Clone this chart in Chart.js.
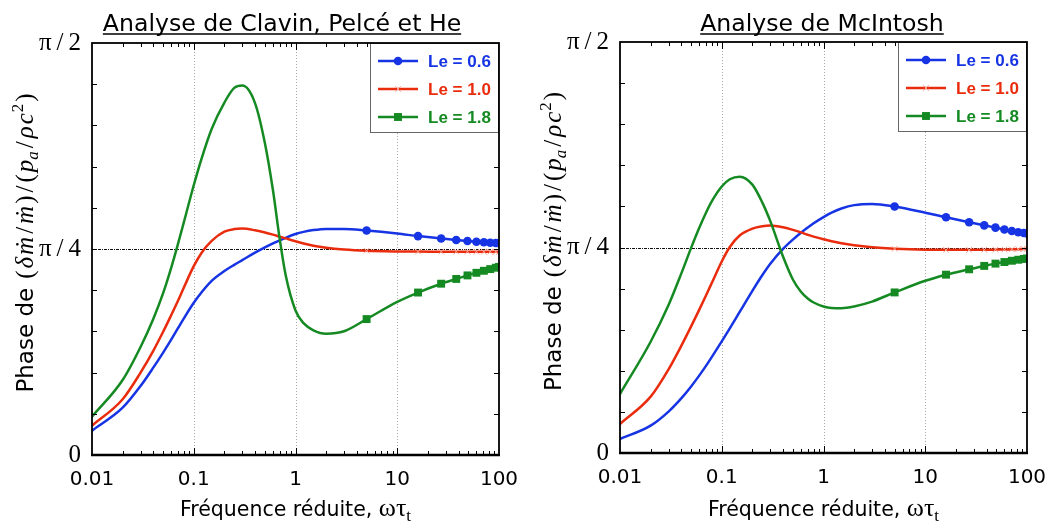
<!DOCTYPE html>
<html>
<head>
<meta charset="utf-8">
<script src="https://cdn.jsdelivr.net/npm/chart.js@4.4.1/dist/chart.umd.min.js"></script>
<style>
  html, body { margin: 0; padding: 0; background: #fff; }
  #wrap { display: flex; width: 1056px; height: 524px; }
  canvas { display: block; }
</style>
</head>
<body>
<div id="wrap">
  <canvas id="left" width="528" height="524"></canvas>
  <canvas id="right" width="528" height="524"></canvas>
</div>
<script>
// fréquence réduite, commune aux deux figures
const freq = [0.01, 0.02, 0.03, 0.04, 0.05, 0.06, 0.07, 0.08, 0.1, 0.12, 0.15, 0.2, 0.25, 0.3, 0.4, 0.5, 0.6, 0.7, 0.8,
              1, 1.2, 1.5, 2, 3, 5, 10, 16, 27, 38, 49, 60, 71, 82, 93, 100];
// points qui portent un symbole
const markerFreq = [5, 16, 27, 38, 49, 60, 71, 82, 93, 100];

const xTicks = [0.01, 0.1, 1, 10, 100];
const xTickLabels = ['0.01', '0.1', '1', '10', '100'];
// phase en degrés : 90 = pi/2
const yTicks = [0, 45, 90];
const yTickLabels = ['0', 'π\u2009/\u20094', 'π\u2009/\u20092'];
const leLabels = ['Le = 0.6', 'Le = 1.0', 'Le = 1.8'];

// Analyse de Clavin, Pelcé et He
const clavinLe06 = [5.31, 10.33, 15.08, 19.08, 22.38, 25.22, 27.7, 29.85, 33.25, 35.62, 38.05, 40.18, 41.54, 42.57, 44.2, 45.36, 46.23, 46.9, 47.45,
                    48.27, 48.74, 49.13, 49.38, 49.38, 49.03, 48.37, 47.82, 47.3, 46.97, 46.75, 46.59, 46.47, 46.38, 46.3, 46.26];
const clavinLe10 = [6.4, 12.18, 17.99, 22.74, 26.91, 30.54, 33.69, 36.59, 41.25, 44.25, 46.77, 48.77, 49.35, 49.47, 49.09, 48.6, 48.13, 47.69, 47.31,
                    46.68, 46.21, 45.72, 45.28, 44.89, 44.62, 44.47, 44.43, 44.42, 44.41, 44.41, 44.4, 44.4, 44.4, 44.4, 44.4];
const clavinLe18 = [8.37, 16.38, 23.6, 29.73, 35.36, 40.89, 46.12, 50.88, 58.93, 64.93, 71.23, 76.98, 80.2, 80.7, 76.88, 68.15, 57.88, 47.16, 39.33,
                    31.57, 28.8, 27.25, 26.5, 27.03, 29.69, 33.45, 35.49, 37.42, 38.46, 39.23, 39.8, 40.24, 40.61, 40.91, 41.09];

// Analyse de McIntosh
const mcintoshLe06 = [3.07, 5.99, 9.07, 11.95, 14.57, 16.94, 19.08, 21.05, 24.45, 27.29, 30.88, 35.51, 38.91, 41.44, 44.69, 46.73, 48.23, 49.37, 50.3,
                      51.66, 52.61, 53.53, 54.28, 54.54, 53.98, 52.63, 51.61, 50.52, 49.85, 49.35, 48.93, 48.6, 48.35, 48.16, 48.06];
const mcintoshLe10 = [6.35, 12.34, 18.32, 23.45, 27.72, 31.35, 34.5, 37.28, 41.94, 45.1, 47.62, 49.12, 49.65, 49.81, 49.43, 48.85, 48.3, 47.8, 47.39,
                      46.79, 46.36, 45.92, 45.48, 45.04, 44.71, 44.5, 44.48, 44.48, 44.5, 44.53, 44.56, 44.6, 44.63, 44.67, 44.7];
const mcintoshLe18 = [12.92, 24.36, 32.4, 39.28, 44.91, 49.26, 52.61, 55.16, 58.36, 59.94, 60.52, 58.77, 54.89, 50.78, 43.03, 37.99, 35.3, 33.83, 32.96,
                      32.09, 31.77, 31.72, 32.1, 33.16, 35.16, 37.72, 39.05, 40.23, 40.97, 41.47, 41.82, 42.1, 42.32, 42.5, 42.6];

const BLUE = '#1634e4';
const RED = '#ea2c0e';
const GREEN = '#158a22';
const styles = [
  { color: BLUE, pointStyle: 'circle', radius: 4.3, pointColor: BLUE, pointBorder: 0 },
  { color: RED, pointStyle: 'crossRot', radius: 4, pointColor: '#f6a493', pointBorder: 1 },
  { color: GREEN, pointStyle: 'rect', radius: 5.6, pointColor: GREEN, pointBorder: 0 }
];

const SANS = '"DejaVu Sans", "Liberation Sans", sans-serif';
const SERIF = '"Liberation Serif", "DejaVu Serif", serif';

// texte en morceaux (police, décalage vertical)
function drawPieces(ctx, pieces, x, y) {
  let cx = x;
  pieces.forEach(p => {
    ctx.font = p.font;
    ctx.fillText(p.t, cx, y + (p.dy || 0));
    cx += ctx.measureText(p.t).width + (p.gap || 0);
  });
  return cx - x;
}
function piecesWidth(ctx, pieces) {
  let w = 0;
  pieces.forEach(p => { ctx.font = p.font; w += ctx.measureText(p.t).width + (p.gap || 0); });
  return w;
}

const mathFont = 'italic 25px ' + SERIF;
const mathUp = '25px ' + SERIF;
const mathSmall = 'italic 17px ' + SERIF;
const yLabelPieces = [
  { t: 'Phase de', font: '23px ' + SANS, gap: 9 },
  { t: '(', font: mathUp, gap: 2 },
  { t: 'δ', font: mathFont, gap: 2 },
  { t: 'ṁ', font: mathFont, gap: 3 },
  { t: '/', font: mathUp, gap: 3 },
  { t: 'ṁ', font: mathFont, gap: 2 },
  { t: ')', font: mathUp, gap: 3 },
  { t: '/', font: mathUp, gap: 3 },
  { t: '(', font: mathUp, gap: 2 },
  { t: 'p', font: mathFont, gap: 0 },
  { t: 'a', font: mathSmall, dy: 5, gap: 3 },
  { t: '/', font: mathUp, gap: 3 },
  { t: 'ρ', font: mathFont, gap: 2 },
  { t: 'c', font: mathFont, gap: 1 },
  { t: '2', font: '17px ' + SERIF, dy: -10, gap: 2 },
  { t: ')', font: mathUp, gap: 0 }
];
const xLabelPieces = [
  { t: 'Fréquence réduite, ', font: '20.5px ' + SANS, gap: 0 },
  { t: 'ωτ', font: '26px ' + SERIF, gap: 0 },
  { t: 't', font: '17px ' + SERIF, dy: 5, gap: 0 }
];

function decorPlugin(title, titleX) {
  return {
    id: 'decor',
    beforeDatasetsDraw(chart) {
      const { ctx, chartArea: a, scales: { x, y } } = chart;
      ctx.save();
      // grille verticale pointillée
      ctx.strokeStyle = '#a8a8a8';
      ctx.lineWidth = 1;
      ctx.setLineDash([1, 2]);
      [0.1, 1, 10].forEach(v => {
        const px = Math.round(x.getPixelForValue(v)) + 0.5;
        ctx.beginPath(); ctx.moveTo(px, a.top); ctx.lineTo(px, a.bottom); ctx.stroke();
      });
      // ligne pi/4
      ctx.strokeStyle = '#111';
      ctx.setLineDash([3, 1, 1, 1]);
      const py = Math.round(y.getPixelForValue(45)) + 0.5;
      ctx.beginPath(); ctx.moveTo(a.left, py); ctx.lineTo(a.right, py); ctx.stroke();
      ctx.restore();
    },
    afterDatasetsDraw(chart) {
      const { ctx, chartArea: a, scales: { x, y } } = chart;
      ctx.save();
      // légende
      const lw = 129, lh = 90;
      const lx = a.right - lw, ly = a.top;
      ctx.fillStyle = '#fff';
      ctx.fillRect(lx, ly, lw, lh);
      ctx.strokeStyle = '#666';
      ctx.lineWidth = 1;
      ctx.strokeRect(lx + 0.5, ly + 0.5, lw - 1, lh - 1);
      styles.forEach((s, i) => {
        const ry = ly + 18 + i * 28;
        ctx.strokeStyle = s.color;
        ctx.lineWidth = 2.5;
        ctx.beginPath(); ctx.moveTo(lx + 8, ry); ctx.lineTo(lx + 48, ry); ctx.stroke();
        ctx.fillStyle = s.pointColor;
        ctx.strokeStyle = s.pointColor;
        ctx.lineWidth = s.pointBorder;
        Chart.helpers.drawPoint(ctx, { pointStyle: s.pointStyle, radius: s.radius, rotation: 0, borderWidth: s.pointBorder }, lx + 28, ry);
        ctx.fillStyle = s.color;
        ctx.font = 'bold 17px "Liberation Sans", Arial, sans-serif';
        ctx.textBaseline = 'middle';
        ctx.textAlign = 'left';
        ctx.fillText(leLabels[i], lx + 58, ry + 1);
      });
      // petites graduations intérieures
      ctx.strokeStyle = '#000';
      ctx.lineWidth = 1;
      for (let e = -2; e < 2; e++) {
        for (let k = 1; k <= 9; k++) {
          const v = k * Math.pow(10, e);
          if (v <= 0.01) continue;
          const px = Math.round(x.getPixelForValue(v)) + 0.5;
          const len = k === 1 ? 7 : 4;
          ctx.beginPath();
          ctx.moveTo(px, a.bottom); ctx.lineTo(px, a.bottom - len);
          if (px < lx) { ctx.moveTo(px, a.top); ctx.lineTo(px, a.top + len); }
          ctx.stroke();
        }
      }
      for (let d = 9; d < 90; d += 9) {
        const py = Math.round(y.getPixelForValue(d)) + 0.5;
        ctx.beginPath();
        ctx.moveTo(a.left, py); ctx.lineTo(a.left + 5, py);
        if (py > ly + lh) { ctx.moveTo(a.right, py); ctx.lineTo(a.right - 5, py); }
        ctx.stroke();
      }
      // cadre
      ctx.lineWidth = 1.8;
      ctx.strokeRect(a.left, a.top, a.right - a.left, a.bottom - a.top);
      ctx.lineWidth = 2.5;
      ctx.beginPath(); ctx.moveTo(a.left - 1, a.bottom); ctx.lineTo(a.right + 1, a.bottom); ctx.stroke();
      ctx.restore();
    },
    afterDraw(chart) {
      const { ctx, chartArea: a } = chart;
      ctx.save();
      ctx.fillStyle = '#000';
      ctx.strokeStyle = '#000';
      // titre souligné
      ctx.font = '23.6px ' + SANS;
      ctx.textAlign = 'center';
      ctx.textBaseline = 'alphabetic';
      ctx.fillText(title, titleX, 31);
      const tw = ctx.measureText(title).width;
      ctx.lineWidth = 1.3;
      ctx.beginPath(); ctx.moveTo(titleX - tw / 2, 34); ctx.lineTo(titleX + tw / 2, 34); ctx.stroke();
      // titre de l'axe x
      ctx.textAlign = 'left';
      const xw = piecesWidth(ctx, xLabelPieces);
      drawPieces(ctx, xLabelPieces, (a.left + a.right) / 2 - xw / 2, 516);
      // titre de l'axe y (vertical)
      const yw = piecesWidth(ctx, yLabelPieces);
      ctx.translate(33, (a.top + a.bottom) / 2 - 6 + yw / 2);
      ctx.rotate(-Math.PI / 2);
      drawPieces(ctx, yLabelPieces, 0, 0);
      ctx.restore();
    }
  };
}

function makeChart(id, title, titleX, series, top, bottom) {
  new Chart(document.getElementById(id), {
    type: 'line',
    data: {
      datasets: series.map((vals, i) => ({
        label: leLabels[i],
        data: freq.map((f, j) => ({ x: f, y: vals[j] })),
        borderColor: styles[i].color,
        borderWidth: 2.5,
        cubicInterpolationMode: 'monotone',
        pointStyle: styles[i].pointStyle,
        pointRadius: c => markerFreq.includes(freq[c.dataIndex]) ? styles[i].radius : 0,
        pointHoverRadius: 0,
        pointBackgroundColor: styles[i].pointColor,
        pointBorderColor: styles[i].pointColor,
        pointBorderWidth: styles[i].pointBorder,
        order: 2 - i
      }))
    },
    options: {
      responsive: false,
      animation: false,
      devicePixelRatio: 1,
      layout: { padding: { top: top, right: 29, left: 0, bottom: 0 } },
      plugins: { legend: { display: false }, tooltip: { enabled: false } },
      scales: {
        x: {
          type: 'logarithmic',
          min: 0.01,
          max: 100,
          afterBuildTicks: s => { s.ticks = xTicks.map(v => ({ value: v })); },
          afterFit: s => { s.height = 524 - bottom; },
          grid: { display: false },
          border: { display: false },
          ticks: {
            autoSkip: false,
            maxRotation: 0,
            padding: 5,
            color: '#000',
            font: { family: 'DejaVu Sans', size: 20 },
            callback: (v, i) => xTickLabels[i]
          }
        },
        y: {
          min: 0,
          max: 90,
          afterBuildTicks: s => { s.ticks = yTicks.map(v => ({ value: v })); },
          afterFit: s => { s.width = 92; },
          grid: { display: false },
          border: { display: false },
          ticks: {
            padding: 3,
            color: '#000',
            font: { family: 'Liberation Serif', size: 25 },
            callback: (v, i) => yTickLabels[i]
          }
        }
      }
    },
    plugins: [decorPlugin(title, titleX)]
  });
}

makeChart('left', 'Analyse de Clavin, Pelcé et He', 282, [clavinLe06, clavinLe10, clavinLe18], 43, 455);
makeChart('right', 'Analyse de McIntosh', 294, [mcintoshLe06, mcintoshLe10, mcintoshLe18], 42, 453);
</script>
</body>
</html>
